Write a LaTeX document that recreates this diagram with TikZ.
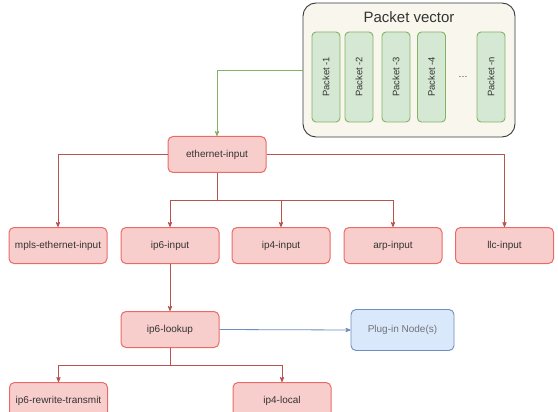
\documentclass[tikz,border=0pt]{standalone}
\usepackage{fontspec}
\setmainfont{Liberation Sans}
\usetikzlibrary{arrows,positioning}

\definecolor{redfill}{HTML}{F8CECC}
\definecolor{redline}{HTML}{EA6B66}
\definecolor{redwire}{HTML}{B85450}
\definecolor{greenfill}{HTML}{D5E8D4}
\definecolor{greenline}{HTML}{82B366}
\definecolor{bluefill}{HTML}{DAE8FC}
\definecolor{blueline}{HTML}{6C8EBF}
\definecolor{creamfill}{HTML}{F9F7ED}
\definecolor{creamline}{HTML}{36393D}
\definecolor{txtgray}{HTML}{333333}

\begin{document}
\begin{tikzpicture}[x=1pt,y=-1pt,>=stealth',shorten >=0pt,
  proc node/.style={rectangle,rounded corners=5pt,fill=redfill,draw=redline,line width=1pt,
    minimum width=98pt,minimum height=36pt,text=txtgray,font=\fontsize{10}{12}\selectfont},
  pkt node/.style={rectangle,rounded corners=4pt,fill=greenfill,draw=greenline,line width=0.9pt,
    minimum width=28pt,minimum height=90pt,text=txtgray,font=\fontsize{9.4}{11}\selectfont},
  plug node/.style={rectangle,rounded corners=5pt,fill=bluefill,draw=blueline,line width=0.9pt,
    minimum width=103pt,minimum height=41pt,text=black!55,font=\fontsize{10}{12}\selectfont},
  wire/.style={->,draw=redwire,line width=0.8pt}]

  \useasboundingbox (0,0) rectangle (558,412);

  % packet vector
  \node[rectangle,rounded corners=13pt,fill=creamfill,draw=creamline,line width=0.9pt,
    minimum width=212pt,minimum height=134pt] (pv) at (409,70) {};
  \node[text=txtgray,font=\fontsize{15}{17}\selectfont] (pvtitle) at (409,17) {Packet vector};
  \foreach \x/\n/\lbl in {326/p1/-1,359/p2/-2,396/p3/-3,431.5/p4/-4,491/pn/-n}
    \node[pkt node] (\n) at (\x,77) {\rotatebox{90}{Packet \lbl}};
  \node[text=txtgray,font=\fontsize{9.4}{11}\selectfont] (pdots) at (463,77) {\dots};

  % graph nodes
  \node[proc node] (eth) at (217,154.5) {ethernet-input};
  \node[proc node] (mpls) at (58,245.5) {mpls-ethernet-input};
  \node[proc node] (ip6) at (170,245.5) {ip6-input};
  \node[proc node] (ip4) at (281,245.5) {ip4-input};
  \node[proc node] (arp) at (393,245.5) {arp-input};
  \node[proc node] (llc) at (504.5,245.5) {llc-input};
  \node[proc node] (lookup) at (170,329.5) {ip6-lookup};
  \node[plug node] (plug) at (402.5,330) {Plug-in Node(s)};
  \node[proc node] (rewrite) at (58.5,400.5) {ip6-rewrite-transmit};
  \node[proc node] (local) at (282,400.5) {ip4-local};

  % connectors
  \draw[->,draw=greenline,line width=0.8pt] (pv.west) -| (eth.north);
  \draw[wire] (eth.west) -| (mpls.north);
  \draw[wire] (eth.east) -| (llc.north);
  \coordinate (ethbus) at (217,200);
  \draw[draw=redwire,line width=0.8pt] (eth.south) -- (ethbus);
  \draw[wire] (ethbus) -| (ip6.north);
  \draw[wire] (ethbus) -| (ip4.north);
  \draw[wire] (ethbus) -| (arp.north);
  \draw[wire] (ip6.south) -- (lookup.north);
  \draw[->,draw=blueline,line width=0.8pt] (lookup.east) -- (plug.west);
  \coordinate (lookbus) at (170,365);
  \draw[draw=redwire,line width=0.8pt] (lookup.south) -- (lookbus);
  \draw[wire] (lookbus) -| (rewrite.north);
  \draw[wire] (lookbus) -| (local.north);
\end{tikzpicture}
\end{document}
